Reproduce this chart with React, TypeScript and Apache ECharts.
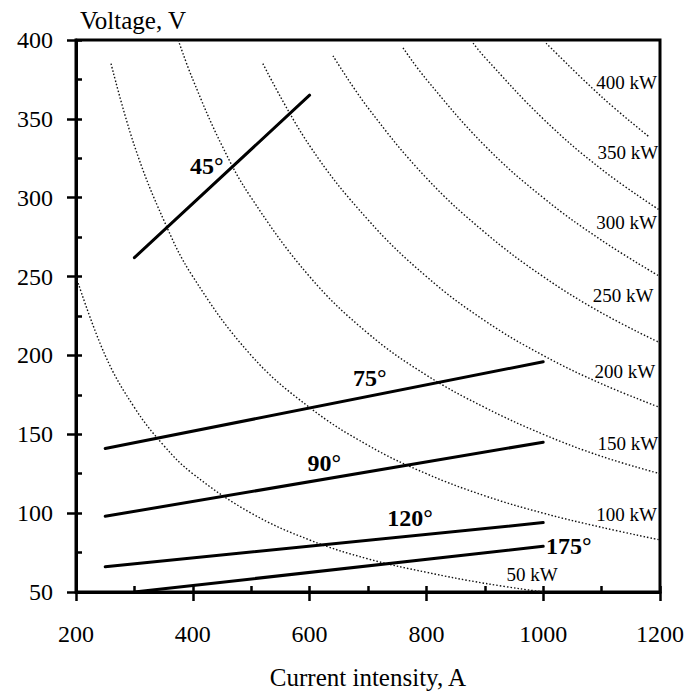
import React, { useEffect, useRef } from "react";
import * as echarts from "echarts";

// Constant-power curves [current A, voltage V]
const kw50 = [[200, 250], [250, 200], [300, 167], [350, 143], [400, 125], [500, 100], [600, 83], [700, 71], [800, 62.5], [900, 55.5], [1000, 50]];
const kw100 = [[260, 385], [300, 333], [350, 286], [400, 250], [500, 200], [600, 167], [700, 143], [800, 125], [900, 111], [1000, 100], [1100, 91], [1200, 83]];
const kw150 = [[375, 400], [400, 375], [450, 333], [500, 300], [600, 250], [700, 214], [800, 187.5], [900, 167], [1000, 150], [1100, 136], [1200, 125]];
const kw200 = [[520, 385], [600, 333], [700, 286], [800, 250], [900, 222], [1000, 200], [1100, 182], [1200, 167]];
const kw250 = [[640, 390], [700, 357], [800, 312.5], [900, 278], [1000, 250], [1100, 227], [1200, 208]];
const kw300 = [[760, 395], [800, 375], [900, 333], [1000, 300], [1100, 273], [1200, 250]];
const kw350 = [[880, 398], [900, 389], [1000, 350], [1100, 318], [1200, 292]];
const kw400 = [[1005, 398], [1100, 364], [1180, 339]];

// Torch angle lines
const angle45 = [[300, 262], [600, 365]];
const angle75 = [[250, 141], [1000, 196]];
const angle90 = [[250, 98], [1000, 145]];
const angle120 = [[250, 66], [1000, 94]];
const angle175 = [[300, 50], [1000, 79]];

// Label positions
const kwLabelNames = ["400 kW", "350 kW", "300 kW", "250 kW", "200 kW", "150 kW", "100 kW", "50 kW"];
const kwLabelPos = [[1143, 373], [1145, 328.5], [1143, 284], [1137, 238], [1140, 190], [1145, 144], [1143, 99], [981, 61]];
const angleLabelNames = ["45°", "75°", "90°", "120°", "175°"];
const angleLabelPos = [[424, 320], [703, 185.5], [625, 131.6], [772, 97], [1044, 79]];

const xTicks = { min: 200, max: 1200, interval: 200 };
const yTicks = { min: 50, max: 400, interval: 50 };

const ff = '"Liberation Serif", "Times New Roman", Times, serif';

export default function App() {
  const ref = useRef<HTMLDivElement>(null);
  useEffect(() => {
    if (!ref.current) return;
    const chart = echarts.init(ref.current, null, { renderer: "svg" });
    const tickStyle = { color: "#000", width: 2.5 };
    const curve = (d: number[][]) => ({
      type: "line",
      data: d,
      showSymbol: false,
      smooth: 0.4,
      silent: true,
      lineStyle: { color: "#111", width: 1.4, type: [1.5, 2] },
      z: 2,
    });
    const solid = (d: number[][]) => ({
      type: "line",
      data: d,
      showSymbol: false,
      silent: true,
      lineStyle: { color: "#000", width: 3, cap: "round" },
      z: 3,
    });
    const plain = (v: number) => String(v);
    const labelSeries = (pos: number[][], names: string[], size: number, weight: string) => ({
      type: "scatter",
      silent: true,
      symbolSize: 0,
      itemStyle: { color: "#000", opacity: 1 },
      data: pos.map((p, i) => ({ value: p, name: names[i] })),
      label: {
        show: true, position: "inside", formatter: "{b}", fontSize: size, fontWeight: weight,
        color: "#000", opacity: 1, textBorderWidth: 0, fontFamily: ff,
      },
      z: 5,
    });
    const option: any = {
      animation: false,
      backgroundColor: "#fff",
      grid: { left: 76, right: 28, top: 40, bottom: 102, show: true, borderColor: "#000", borderWidth: 3 },
      xAxis: [
        {
          type: "value", ...xTicks, position: "bottom",
          axisLine: { show: true, lineStyle: { color: "#000", width: 3 } },
          axisTick: { show: true, inside: false, length: 9, lineStyle: tickStyle },
          axisLabel: { margin: 30, fontSize: 24, color: "#000", fontFamily: ff, formatter: plain },
          splitLine: { show: false },
          name: "Current intensity, A", nameLocation: "middle", nameGap: 73,
          nameTextStyle: { fontSize: 25, color: "#000", fontFamily: ff },
        },
        {
          type: "value", ...xTicks, position: "bottom",
          axisLine: { show: false },
          axisTick: { show: true, inside: true, length: 6, lineStyle: tickStyle },
          minorTick: { show: true, splitNumber: 2, length: 6, lineStyle: tickStyle },
          axisLabel: { show: false },
          splitLine: { show: false },
        },
      ],
      yAxis: [
        {
          type: "value", ...yTicks, position: "left",
          axisLine: { show: true, lineStyle: { color: "#000", width: 3 } },
          axisTick: { show: true, inside: false, length: 9, lineStyle: tickStyle },
          axisLabel: { margin: 23, fontSize: 24, color: "#000", fontFamily: ff, formatter: plain },
          splitLine: { show: false },
          name: "Voltage, V", nameLocation: "end", nameGap: 7,
          nameTextStyle: { fontSize: 25, color: "#000", fontFamily: ff, align: "left", verticalAlign: "bottom", padding: [0, 0, 0, 4] },
        },
        {
          type: "value", ...yTicks, position: "left",
          axisLine: { show: false },
          axisTick: { show: true, inside: true, length: 6, lineStyle: tickStyle },
          minorTick: { show: true, splitNumber: 2, length: 6, lineStyle: tickStyle },
          axisLabel: { show: false },
          splitLine: { show: false },
        },
      ],
      series: [
        curve(kw50), curve(kw100), curve(kw150), curve(kw200),
        curve(kw250), curve(kw300), curve(kw350), curve(kw400),
        solid(angle45), solid(angle75), solid(angle90), solid(angle120), solid(angle175),
        labelSeries(kwLabelPos, kwLabelNames, 19, "normal"),
        labelSeries(angleLabelPos, angleLabelNames, 24, "bold"),
      ],
    };
    chart.setOption(option);
    return () => chart.dispose();
  }, []);
  return <div ref={ref} style={{ position: "absolute", left: 0, top: 0, width: 688, height: 695 }} />;
}
